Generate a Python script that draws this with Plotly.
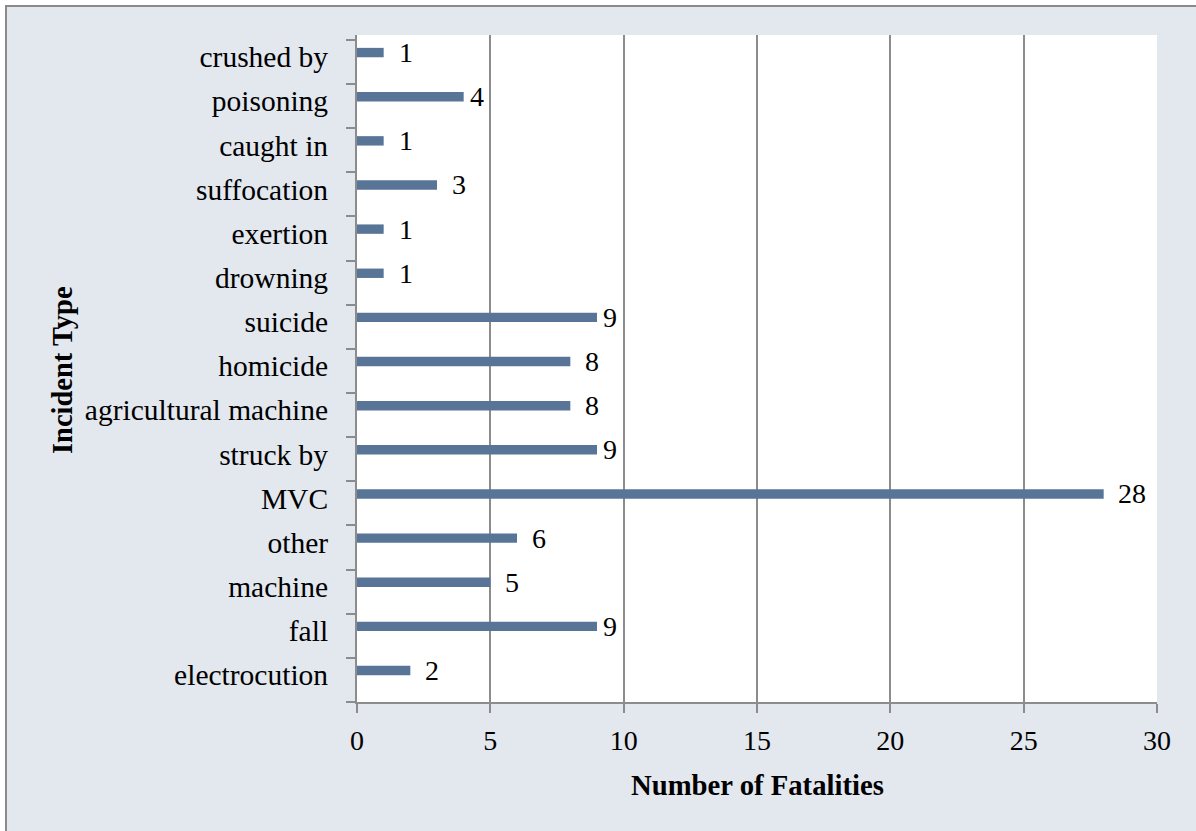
import plotly.graph_objects as go

# Fatalities by incident type (bottom-to-top order on the axis)
incident_types = [
    "electrocution", "fall", "machine", "other", "MVC", "struck by",
    "agricultural machine", "homicide", "suicide", "drowning", "exertion",
    "suffocation", "caught in", "poisoning", "crushed by",
]
fatalities = [2, 9, 5, 6, 28, 9, 8, 8, 9, 1, 1, 3, 1, 4, 1]

x_ticks = [0, 5, 10, 15, 20, 25, 30]

FONT = "Palatino Linotype, Book Antiqua, Palatino, Liberation Serif, serif"
BAR = "#587496"
GRID = "#8c8c8c"
PANEL = "#e3e7ee"

W, H = 1196, 831
L, R, T, B = 357, 39, 35, 129
plot_w = W - L - R
plot_h = H - T - B
band = plot_h / len(incident_types)

bar_w = 0.213
bar_off = 0.107

fig = go.Figure()
fig.add_trace(go.Bar(
    x=fatalities,
    y=incident_types,
    orientation="h",
    marker=dict(color=BAR, line=dict(width=0)),
    width=bar_w,
    offset=bar_off,
    hoverinfo="x+y",
))

# value labels beside each bar, kept clear of the grid lines
bar_shift = (bar_off + bar_w / 2) * band
for cat, val in zip(incident_types, fatalities):
    gap = 22 if val % 5 != 4 else 13
    if val >= 10:
        gap = 28
    fig.add_annotation(
        x=val, y=cat, xref="x", yref="y",
        text=str(val), showarrow=False,
        xanchor="center", yanchor="middle",
        xshift=gap, yshift=bar_shift,
        font=dict(family=FONT, size=28, color="#000000"),
    )

# outer panel with border, and white plotting area on top of it
fig.add_shape(
    type="rect", xref="paper", yref="paper", layer="below",
    x0=(6 - L) / plot_w, x1=(W + 10 - L) / plot_w,
    y0=-(H + 10 - T - plot_h) / plot_h, y1=1 + (T - 6) / plot_h,
    fillcolor=PANEL, line=dict(color="#8a8a8a", width=2),
)
fig.add_shape(
    type="rect", xref="paper", yref="paper", layer="below",
    x0=0, x1=1, y0=0, y1=1,
    fillcolor="#ffffff", line=dict(width=0),
)

# axis titles
fig.add_annotation(
    x=(757 - L) / plot_w, y=-(785 - T - plot_h) / plot_h, xref="paper", yref="paper",
    text="<b>Number of Fatalities</b>", showarrow=False,
    xanchor="center", yanchor="middle",
    font=dict(family=FONT, size=28.7, color="#000000"),
)
fig.add_annotation(
    x=(62 - L) / plot_w, y=(H - B - 370) / plot_h, xref="paper", yref="paper",
    text="<b>Incident Type</b>", showarrow=False, textangle=-90,
    xanchor="center", yanchor="middle",
    font=dict(family=FONT, size=28.5, color="#000000"),
)

fig.update_layout(
    width=W, height=H,
    margin=dict(l=L, r=R, t=T, b=B, pad=0),
    paper_bgcolor="#ffffff",
    plot_bgcolor="rgba(0,0,0,0)",
    showlegend=False,
    font=dict(family=FONT, size=28, color="#000000"),
    xaxis=dict(
        range=[x_ticks[0], x_ticks[-1]],
        tickvals=x_ticks,
        ticks="outside", ticklen=9, tickwidth=2, tickcolor=GRID,
        showgrid=True, gridcolor=GRID, gridwidth=2,
        showline=True, linecolor=GRID, linewidth=2,
        zeroline=False,
        ticklabelstandoff=3,
        tickfont=dict(family=FONT, size=28),
        fixedrange=True,
    ),
    yaxis=dict(
        type="category",
        categoryorder="array", categoryarray=incident_types,
        tickson="boundaries",
        ticks="outside", ticklen=9, tickwidth=2, tickcolor=GRID,
        showgrid=False,
        showline=True, linecolor=GRID, linewidth=2,
        ticklabelstandoff=21,
        ticklabelshift=-5,
        tickfont=dict(family=FONT, size=29.5),
        fixedrange=True,
    ),
)

fig.write_html("out.html")
